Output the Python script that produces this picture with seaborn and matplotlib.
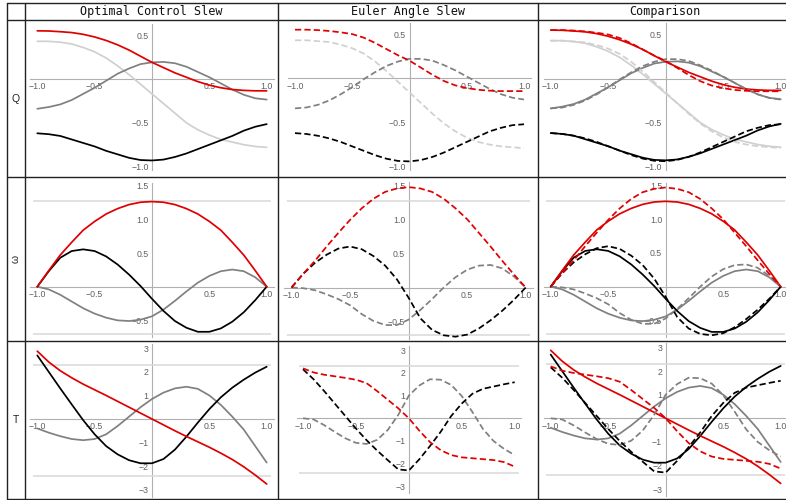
import numpy as np
import matplotlib
matplotlib.use("Agg")
import matplotlib.pyplot as plt
from matplotlib.lines import Line2D
from matplotlib.ticker import FixedLocator, FixedFormatter
import seaborn as sns

# ---------------- data ----------------
T_GRID = [-1.0, -0.9, -0.8, -0.7, -0.6, -0.5, -0.4, -0.3, -0.2, -0.1, 0.0,
          0.1, 0.2, 0.3, 0.4, 0.5, 0.6, 0.7, 0.8, 0.9, 1.0]

COL_TITLES = ["Optimal Control Slew", "Euler Angle Slew", "Comparison"]
ROW_TITLES = ["Q", "ω", "T"]

# Quaternion components
q_opt_red = [0.55, 0.548, 0.54, 0.53, 0.51, 0.48, 0.44, 0.39, 0.33, 0.26, 0.19,
             0.13, 0.07, 0.02, -0.03, -0.07, -0.10, -0.12, -0.13, -0.135, -0.135]
q_eul_red = [0.55, 0.55, 0.545, 0.535, 0.52, 0.50, 0.46, 0.40, 0.33, 0.26, 0.20,
             0.12, 0.04, -0.03, -0.08, -0.11, -0.13, -0.14, -0.145, -0.145, -0.145]
q_opt_light = [0.43, 0.43, 0.42, 0.40, 0.36, 0.31, 0.24, 0.15, 0.05, -0.06, -0.17,
               -0.28, -0.39, -0.50, -0.58, -0.64, -0.69, -0.72, -0.75, -0.77, -0.78]
q_eul_light = [0.43, 0.43, 0.42, 0.41, 0.38, 0.34, 0.28, 0.19, 0.08, -0.04, -0.16,
               -0.28, -0.40, -0.51, -0.60, -0.67, -0.72, -0.75, -0.77, -0.78, -0.79]
q_opt_gray = [-0.34, -0.32, -0.29, -0.24, -0.17, -0.10, -0.02, 0.06, 0.12, 0.17, 0.19,
              0.195, 0.18, 0.14, 0.08, 0.02, -0.05, -0.12, -0.18, -0.22, -0.235]
q_eul_gray = [-0.34, -0.33, -0.30, -0.25, -0.18, -0.10, -0.01, 0.07, 0.14, 0.19, 0.22,
              0.22, 0.20, 0.15, 0.09, 0.02, -0.05, -0.12, -0.18, -0.22, -0.24]
q_opt_black = [-0.62, -0.63, -0.65, -0.69, -0.73, -0.77, -0.82, -0.86, -0.90, -0.925, -0.93,
               -0.92, -0.89, -0.85, -0.80, -0.75, -0.70, -0.65, -0.59, -0.545, -0.515]
q_eul_black = [-0.62, -0.63, -0.65, -0.68, -0.72, -0.77, -0.82, -0.87, -0.91, -0.935, -0.94,
               -0.925, -0.89, -0.84, -0.78, -0.72, -0.66, -0.60, -0.56, -0.53, -0.52]

# Angular rates
w_opt_red = [0.0, 0.24, 0.47, 0.66, 0.84, 0.97, 1.08, 1.16, 1.22, 1.255, 1.265,
             1.255, 1.22, 1.16, 1.08, 0.97, 0.84, 0.66, 0.47, 0.24, 0.0]
w_eul_red = [0.0, 0.20, 0.39, 0.60, 0.80, 0.99, 1.16, 1.30, 1.40, 1.45, 1.47,
             1.45, 1.40, 1.30, 1.16, 1.00, 0.80, 0.60, 0.39, 0.19, 0.0]
w_opt_black = [0.0, 0.23, 0.43, 0.53, 0.555, 0.53, 0.45, 0.33, 0.18, 0.01, -0.18,
               -0.36, -0.51, -0.61, -0.67, -0.67, -0.62, -0.52, -0.38, -0.20, 0.0]
w_eul_black = [0.0, 0.20, 0.36, 0.48, 0.57, 0.60, 0.56, 0.46, 0.32, 0.12, -0.15,
               -0.45, -0.62, -0.70, -0.72, -0.69, -0.60, -0.48, -0.34, -0.18, 0.0]
w_opt_gray = [0.0, -0.04, -0.12, -0.22, -0.32, -0.40, -0.46, -0.50, -0.51, -0.49, -0.44,
              -0.34, -0.21, -0.07, 0.06, 0.16, 0.23, 0.255, 0.23, 0.14, 0.0]
w_eul_gray = [0.0, -0.01, -0.04, -0.10, -0.17, -0.26, -0.39, -0.49, -0.55, -0.55, -0.47,
              -0.33, -0.17, 0.0, 0.15, 0.26, 0.32, 0.33, 0.28, 0.16, 0.0]

# Torques
t_opt_red = [2.88, 2.42, 2.05, 1.75, 1.48, 1.24, 1.0, 0.75, 0.5, 0.25, 0.0,
             -0.25, -0.5, -0.74, -0.97, -1.2, -1.45, -1.72, -2.03, -2.38, -2.76]
t_eul_red = [2.2, 2.02, 1.92, 1.85, 1.78, 1.7, 1.55, 1.2, 0.82, 0.44, 0.0,
             -0.55, -1.05, -1.4, -1.62, -1.72, -1.76, -1.8, -1.84, -1.93, -2.13]
t_opt_black = [2.7, 2.0, 1.3, 0.62, -0.05, -0.65, -1.15, -1.5, -1.75, -1.88, -1.88,
               -1.7, -1.3, -0.75, -0.15, 0.42, 0.92, 1.33, 1.67, 1.97, 2.22]
t_eul_black = [2.16, 1.72, 1.2, 0.65, 0.1, -0.45, -0.96, -1.42, -1.84, -2.25, -2.3,
               -1.8, -1.22, -0.6, 0.1, 0.65, 1.08, 1.3, 1.4, 1.5, 1.59]
t_opt_gray = [-0.4, -0.58, -0.73, -0.85, -0.9, -0.85, -0.65, -0.3, 0.1, 0.5, 0.85,
              1.12, 1.3, 1.37, 1.28, 1.0, 0.6, 0.1, -0.45, -1.15, -1.85]
t_eul_gray = [0.0, -0.05, -0.3, -0.6, -0.88, -1.08, -1.13, -0.95, -0.52, 0.15, 1.0,
              1.45, 1.72, 1.7, 1.47, 0.98, 0.28, -0.47, -1.0, -1.35, -1.62]

# horizontal reference lines per row
W_LIMITS = [1.27, -0.70]
T_LIMITS = [2.3, -2.4]

# ---------------- style ----------------
RED = "#e00000"
BLACK = "#000000"
GRAY = "#808080"
LIGHT = "#d0d0d0"

ROW_SERIES = [
    [(q_opt_light, q_eul_light, LIGHT), (q_opt_gray, q_eul_gray, GRAY),
     (q_opt_black, q_eul_black, BLACK), (q_opt_red, q_eul_red, RED)],
    [(w_opt_gray, w_eul_gray, GRAY), (w_opt_black, w_eul_black, BLACK),
     (w_opt_red, w_eul_red, RED)],
    [(t_opt_gray, t_eul_gray, GRAY), (t_opt_black, t_eul_black, BLACK),
     (t_opt_red, t_eul_red, RED)],
]

ROW_CFG = [
    dict(yt=[0.5, -0.5, -1.0], ylab=["0.5", "\u22120.5", "\u22121.0"], minor=0.1,
         yb=(-1.04, 0.63), grid=[]),
    dict(yt=[1.5, 1.0, 0.5, -0.5], ylab=["1.5", "1.0", "0.5", "\u22120.5"], minor=0.1,
         yb=(-0.75, 1.54), grid=W_LIMITS),
    dict(yt=[3, 2, 1, -1, -2, -3], ylab=["3", "2", "1", "\u22121", "\u22122", "\u22123"],
         minor=0.2, yb=(-3.3, 3.2), grid=T_LIMITS),
]

sns.set_theme(style="white")
plt.rcParams["font.family"] = ["Liberation Sans", "DejaVu Sans"]
plt.rcParams["axes.unicode_minus"] = True

W, H = 786, 500
fig = plt.figure(figsize=(W / 100, H / 100), dpi=100)
fig.patch.set_facecolor("white")

COL_EDGES = [(25, 278), (278, 538), (538, 792)]
ROW_EDGES = [(20, 177), (177, 341), (341, 499)]
# pixel mapping per panel: x of -1, x of +1, y of 0, pixels per unit (y)
MAP = {
    (0, 0): (37.3, 266.7, 79.0, 87.6), (0, 1): (295.0, 524.0, 78.3, 88.4),
    (0, 2): (550.7, 780.7, 78.5, 88.0),
    (1, 0): (37.3, 266.7, 286.7, 67.3), (1, 1): (291.5, 525.7, 287.5, 68.3),
    (1, 2): (550.7, 780.7, 286.7, 67.5),
    (2, 0): (37.3, 266.7, 419.0, 23.55), (2, 1): (303.0, 514.7, 418.3, 22.7),
    (2, 2): (550.7, 780.7, 418.3, 23.6),
}

LW = 1.25
DASH = (0, (3.6, 1.8))
AXIS_C = "#b0b0b0"
LABEL_C = "#606060"

x_major = [-1.0, -0.5, 0.5, 1.0]
x_labels = ["\u22121.0", "\u22120.5", "0.5", "1.0"]
x_minor = [round(v, 2) for v in np.arange(-1.0, 1.0001, 0.1)]

for r, (ry0, ry1) in enumerate(ROW_EDGES):
    cfg = ROW_CFG[r]
    for c, (cx0, cx1) in enumerate(COL_EDGES):
        xm1, xp1, yzero, ppu = MAP[(r, c)]
        ax = fig.add_axes([cx0 / W, 1 - ry1 / H, (cx1 - cx0) / W, (ry1 - ry0) / H])
        ax.set_facecolor("none")
        ppx = (xp1 - xm1) / 2.0
        xc = (xp1 + xm1) / 2.0
        ax.set_xlim((cx0 - xc) / ppx, (cx1 - xc) / ppx)
        ax.set_ylim((yzero - ry1) / ppu, (yzero - ry0) / ppu)

        for g in cfg["grid"]:
            ax.hlines(g, -1.04, 1.04, color="#d9d9d9", lw=1.1, zorder=1)

        for opt, eul, col in ROW_SERIES[r]:
            if c in (0, 2):
                sns.lineplot(x=T_GRID, y=opt, ax=ax, color=col, linewidth=LW,
                             estimator=None, zorder=3)
        for opt, eul, col in ROW_SERIES[r]:
            if c in (1, 2):
                sns.lineplot(x=T_GRID, y=eul, ax=ax, color=col, linewidth=LW,
                             linestyle=DASH, estimator=None, zorder=4)

        for s in ["top", "right"]:
            ax.spines[s].set_visible(False)
        ax.spines["left"].set_position(("data", 0))
        ax.spines["bottom"].set_position(("data", 0))
        for s in ["left", "bottom"]:
            ax.spines[s].set_color(AXIS_C)
            ax.spines[s].set_linewidth(0.8)
            ax.spines[s].set_zorder(0.5)
        ax.spines["bottom"].set_bounds(-1.06, 1.06)
        ax.spines["left"].set_bounds(*cfg["yb"])

        ax.xaxis.set_major_locator(FixedLocator(x_major))
        ax.xaxis.set_major_formatter(FixedFormatter(x_labels))
        ax.xaxis.set_minor_locator(FixedLocator(x_minor))
        ax.yaxis.set_major_locator(FixedLocator(cfg["yt"]))
        ax.yaxis.set_major_formatter(FixedFormatter(cfg["ylab"]))
        lo, hi = cfg["yb"]
        st = cfg["minor"]
        ym = [round(v, 2) for v in np.arange(np.ceil(lo / st) * st, hi, st)]
        ax.yaxis.set_minor_locator(FixedLocator(ym))
        ax.tick_params(which="major", direction="in", length=3.0, width=0.6,
                       color=AXIS_C, labelsize=6.3, labelcolor=LABEL_C, pad=2.5)
        ax.tick_params(which="minor", direction="in", length=1.6, width=0.5,
                       color=AXIS_C)
        ax.set_xlabel("")
        ax.set_ylabel("")
        ax.grid(False)

# ---------------- table frame & labels ----------------
FRAME_C = "#222222"
def hline(y, x0=7, x1=786):
    fig.add_artist(Line2D([x0 / W, x1 / W], [1 - y / H, 1 - y / H],
                          color=FRAME_C, lw=1.0, zorder=10))

def vline(x, y0=3, y1=499):
    fig.add_artist(Line2D([x / W, x / W], [1 - y0 / H, 1 - y1 / H],
                          color=FRAME_C, lw=1.0, zorder=10))

for y in [3, 20, 177, 341, 499]:
    hline(y)
for x in [7, 25, 278, 538]:
    vline(x)

col_centers = [151.5, 408, 665]
for cx, title in zip(col_centers, COL_TITLES):
    fig.text(cx / W, 1 - 11.5 / H, title, ha="center", va="center",
             family="DejaVu Sans Mono", fontsize=8.5, color="#111111")

row_centers = [98.5, 259, 420]
for ry, lab in zip(row_centers, ROW_TITLES):
    fig.text(16 / W, 1 - ry / H, lab, ha="center", va="center",
             fontsize=7.5, color="#222222", rotation=90 if lab == "ω" else 0,
             family=["Liberation Sans", "DejaVu Sans"])

fig.savefig("out.png", dpi=100)
